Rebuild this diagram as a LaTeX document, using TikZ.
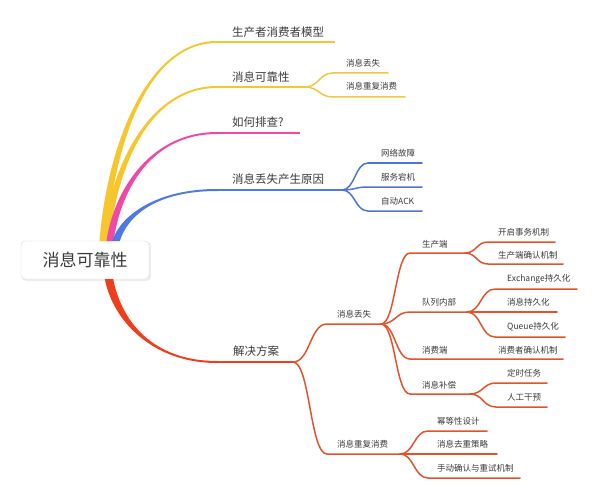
\documentclass[tikz,border=0pt]{standalone}
\usepackage{fontspec}
\setmainfont{Noto Sans CJK SC}
\usetikzlibrary{calc}
\definecolor{txt}{HTML}{3A3A3A}
\definecolor{yelM}{HTML}{F6C62E}
\definecolor{yelS}{HTML}{F3C640}
\definecolor{magM}{HTML}{F048A6}
\definecolor{bluM}{HTML}{4D78E6}
\definecolor{bluS}{HTML}{4F74D2}
\definecolor{redM}{HTML}{EE3E1C}
\definecolor{redS}{HTML}{E2532B}
% x0,y0,x1,y1,halfwidth,sign,color
\newcommand\mbranch[7]{%
 \fill[#7] ({#1-#5},#2) .. controls ({#1+8-#5},{(#2+#4)/2}) and ({#1+0.4*(#3-#1)},{#4-#6}) .. (#3,{#4-#6})
   -- (#3,{#4+#6}) .. controls ({#1+0.4*(#3-#1)},{#4+#6}) and ({#1+8+#5},{(#2+#4)/2}) .. ({#1+#5},#2) -- cycle;}
\begin{document}
\begin{tikzpicture}[x=1pt,y=-1pt,
  lvA/.style={anchor=west,inner sep=0pt,text=txt,font=\fontsize{11.5}{13}\selectfont},
  lvB/.style={anchor=west,inner sep=0pt,text=txt,font=\fontsize{8.5}{10}\selectfont},
  mline/.style={line width=2pt},
  sline/.style={line width=1.5pt,line cap=round},
  sbr/.style={to path={let \p1=(\tikztostart),\p2=(\tikztotarget) in
     .. controls ({(\x1+\x2)/2},\y1) and ({(\x1+\x2)/2},\y2) .. (\tikztotarget)}}]
\useasboundingbox (0,0) rectangle (597,500);

% root
\fill[black!7, rounded corners=4pt] (22,242) rectangle (151,281);
\node[draw=black!15, fill=white, rounded corners=4pt, minimum width=128pt, minimum height=38pt,
      inner sep=0pt, text=txt, font=\fontsize{17}{20}\selectfont] (root) at (85,260) {消息可靠性};

% main tapered branches
\mbranch{103}{241}{217}{42}{3.5}{1}{yelM}
\mbranch{106}{241}{217}{87}{3.5}{1}{yelM}
\mbranch{110}{241}{217}{133}{3.5}{1}{magM}
\mbranch{116}{241}{217}{190}{3.8}{1}{bluM}
\mbranch{109}{279}{217}{362}{4.2}{-1}{redM}

% level 1 coordinates and labels
\coordinate (b1s) at (217,42);  \coordinate (b1e) at (335,42);
\coordinate (b2s) at (217,87);  \coordinate (b2e) at (305,87);
\coordinate (b3s) at (217,133); \coordinate (b3e) at (300,133);
\coordinate (b4s) at (217,190); \coordinate (b4e) at (342,190);
\coordinate (b5s) at (217,362); \coordinate (b5e) at (293,362);
\draw[mline,yelM] (b1s) -- (b1e);
\draw[mline,yelM] (b2s) -- (b2e);
\draw[mline,magM] (b3s) -- (b3e);
\draw[mline,bluM] (b4s) -- (b4e);
\draw[mline,redM] (b5s) -- (b5e);
\node[lvA] (t1) at (232,32) {生产者消费者模型};
\node[lvA] (t2) at (232,77) {消息可靠性};
\node[lvA] (t3) at (232,122) {如何排查?};
\node[lvA] (t4) at (232,179) {消息丢失产生原因};
\node[lvA] (t5) at (233,351) {解决方案};

% yellow sub
\coordinate (y1s) at (333,73); \coordinate (y1e) at (388,73);
\coordinate (y2s) at (333,97); \coordinate (y2e) at (405,97);
\draw[sline,yelS] (b2e) to[sbr] (y1s) -- (y1e);
\draw[sline,yelS] (b2e) to[sbr] (y2s) -- (y2e);
\node[lvB] (ty1) at (346,63) {消息丢失};
\node[lvB] (ty2) at (346,86) {消息重复消费};

% blue sub
\coordinate (u1s) at (368,163); \coordinate (u1e) at (422,163);
\coordinate (u2s) at (368,187); \coordinate (u2e) at (422,187);
\coordinate (u3s) at (368,211); \coordinate (u3e) at (422,211);
\draw[sline,bluS] (b4e) to[sbr] (u1s) -- (u1e);
\draw[sline,bluS] (b4e) to[sbr] (u2s) -- (u2e);
\draw[sline,bluS] (b4e) to[sbr] (u3s) -- (u3e);
\node[lvB] (tu1) at (381,153) {网络故障};
\node[lvB] (tu2) at (381,177) {服务宕机};
\node[lvB] (tu3) at (381,201) {自动ACK};

% red level 2
\coordinate (r1s) at (327,324); \coordinate (r1e) at (381,324);
\coordinate (r2s) at (327,454); \coordinate (r2e) at (400,454);
\draw[sline,redS] (b5e) to[sbr] (r1s) -- (r1e);
\draw[sline,redS] (b5e) to[sbr] (r2s) -- (r2e);
\node[lvB] (tr1) at (337,314) {消息丢失};
\node[lvB] (tr2) at (337,444) {消息重复消费};

% red level 3 under 消息丢失
\coordinate (q1s) at (410,253); \coordinate (q1e) at (465,253);
\coordinate (q2s) at (410,312); \coordinate (q2e) at (467,312);
\coordinate (q3s) at (410,359); \coordinate (q3e) at (563,359);
\coordinate (q4s) at (410,394); \coordinate (q4e) at (470,394);
\draw[sline,redS] (r1e) to[sbr] (q1s) -- (q1e);
\draw[sline,redS] (r1e) to[sbr] (q2s) -- (q2e);
\draw[sline,redS] (r1e) to[sbr] (q3s) -- (q3e);
\draw[sline,redS] (r1e) to[sbr] (q4s) -- (q4e);
\node[lvB] (tq1) at (422,244) {生产端};
\node[lvB] (tq2) at (422,302) {队列内部};
\node[lvB] (tq3) at (422,350) {消费端};
\node[lvB] (tq4) at (422,385) {消息补偿};
\node[lvB] (tq3a) at (498,350) {消费者确认机制};

% red level 4
\coordinate (p1s) at (488,242); \coordinate (p1e) at (555,242);
\coordinate (p2s) at (488,264); \coordinate (p2e) at (563,264);
\draw[sline,redS] (q1e) to[sbr] (p1s) -- (p1e);
\draw[sline,redS] (q1e) to[sbr] (p2s) -- (p2e);
\node[lvB] (tp1) at (498,232) {开启事务机制};
\node[lvB] (tp2) at (498,255) {生产端确认机制};

\coordinate (p3s) at (495,289); \coordinate (p3e) at (577,289);
\coordinate (p4e) at (557,312);
\coordinate (p5s) at (495,337); \coordinate (p5e) at (565,337);
\draw[sline,redS] (q2e) to[sbr] (p3s) -- (p3e);
\draw[sline,redS] (q2e) -- (p4e);
\draw[sline,redS] (q2e) to[sbr] (p5s) -- (p5e);
\node[lvB] (tp3) at (507,279) {Exchange持久化};
\node[lvB] (tp4) at (507,302) {消息持久化};
\node[lvB] (tp5) at (507,327) {Queue持久化};

\coordinate (p6s) at (496,383); \coordinate (p6e) at (547,383);
\coordinate (p7s) at (496,407); \coordinate (p7e) at (547,407);
\draw[sline,redS] (q4e) to[sbr] (p6s) -- (p6e);
\draw[sline,redS] (q4e) to[sbr] (p7s) -- (p7e);
\node[lvB] (tp6) at (507,373) {定时任务};
\node[lvB] (tp7) at (507,397) {人工干预};

% red level 3 under 消息重复消费
\coordinate (d1s) at (428,431); \coordinate (d1e) at (487,431);
\coordinate (d2s) at (428,454); \coordinate (d2e) at (497,454);
\coordinate (d3s) at (428,478); \coordinate (d3e) at (520,478);
\draw[sline,redS] (r2e) to[sbr] (d1s) -- (d1e);
\draw[sline,redS] (r2e) -- (d2e);
\draw[sline,redS] (r2e) to[sbr] (d3s) -- (d3e);
\node[lvB] (td1) at (437,421) {幂等性设计};
\node[lvB] (td2) at (437,444) {消息去重策略};
\node[lvB] (td3) at (437,468) {手动确认与重试机制};
\end{tikzpicture}
\end{document}
